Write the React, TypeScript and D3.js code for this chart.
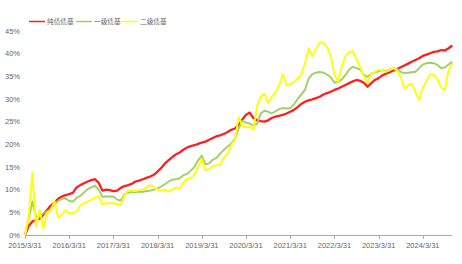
import React from "react";
import * as d3 from "d3";

const seriesNames = ["纯债债基", "一级债基", "二级债基"];
const seriesColors = ["#ff1f1f", "#9dd164", "#ffff00"];

const pureBond = [
  0, 2.0, 3.0, 3.3, 3.6, 4.5, 5.5, 6.5, 7.2, 8.0, 8.5, 8.8, 9.0, 9.3, 10.5, 11.0, 11.4, 11.8, 12.1, 12.3,
  11.5, 9.8, 10.0, 9.9, 9.7, 9.8, 10.4, 10.8, 11.0, 11.3, 11.8, 12.0, 12.3, 12.6, 12.9, 13.3, 14.0, 14.8, 15.8, 16.5,
  17.2, 17.8, 18.2, 18.8, 19.3, 19.6, 19.8, 20.1, 20.4, 20.6, 21.0, 21.4, 21.8, 22.0, 22.3, 22.7, 23.2, 23.5, 24.3, 25.5,
  26.5, 27.0, 25.8, 25.3, 25.1, 25.0, 25.3, 25.8, 26.1, 26.3, 26.5, 26.8, 27.2, 27.6, 28.2, 28.9, 29.4, 29.7, 29.9, 30.2,
  30.5, 31.0, 31.3, 31.6, 32.0, 32.3, 32.7, 33.1, 33.5, 33.9, 34.2, 34.0, 33.6, 32.7, 33.5, 34.2, 34.6, 35.2, 35.6, 35.9,
  36.3, 36.6, 37.0, 37.4, 37.8, 38.2, 38.6, 39.0, 39.5, 39.8, 40.1, 40.4, 40.5, 40.8, 40.7, 41.2, 41.8,
];

const primaryBond = [
  0, 3.5, 7.4, 4.0, 4.2, 4.8, 5.2, 5.6, 6.8, 7.5, 8.0, 8.1, 7.5, 7.4, 8.2, 8.6, 9.4, 10.1, 10.5, 10.9,
  10.0, 8.4, 8.5, 8.5, 8.5, 7.8, 7.6, 9.0, 9.3, 9.5, 9.4, 9.6, 9.5, 9.7, 9.8, 10.0, 10.3, 10.7, 11.2, 11.8,
  12.2, 12.3, 12.5, 13.2, 13.5, 14.2, 15.0, 16.5, 17.5, 15.6, 15.8, 16.6, 17.0, 18.0, 18.8, 19.5, 20.2, 21.2, 23.5, 25.2,
  24.8, 24.6, 24.2, 24.5, 26.8, 27.4, 27.2, 26.8, 27.3, 27.8, 28.0, 27.9, 28.0, 28.8, 30.0, 31.0, 32.0, 34.5, 35.5, 35.8,
  36.0, 35.8, 35.4, 34.8, 33.6, 33.8, 34.3, 35.3, 36.5, 37.1, 36.8, 36.5, 35.3, 34.9, 35.6, 35.9, 36.1, 36.3, 36.2, 36.5,
  36.8, 36.6, 36.0, 35.7, 35.8, 35.9, 36.0, 36.8, 37.6, 37.9, 38.0, 37.9, 37.5, 36.8, 37.0, 37.6, 38.2,
];

const secondaryBond = [
  0, 4.0, 13.8, 1.8, 5.5, 1.5, 4.8, 5.5, 7.5, 3.8, 4.5, 5.5, 4.8, 4.8, 5.2, 6.5, 7.0, 7.4, 7.7, 8.3,
  8.5, 6.8, 7.0, 7.0, 7.0, 6.8, 6.6, 8.8, 9.8, 9.8, 9.7, 9.9, 10.0, 10.5, 11.0, 10.6, 10.0, 9.8, 10.0, 9.6,
  10.0, 10.5, 10.2, 11.6, 12.3, 12.6, 13.3, 15.0, 16.8, 14.3, 14.5, 15.2, 15.4, 15.6, 17.0, 18.0, 19.9, 21.0, 26.0, 24.0,
  23.8, 23.9, 23.2, 28.5, 30.5, 31.2, 29.1, 30.5, 31.5, 33.0, 35.5, 33.0, 33.2, 33.8, 34.5, 35.3, 37.9, 41.2, 39.5, 41.0,
  42.5, 42.4, 41.5, 39.5, 35.5, 33.8, 37.0, 39.5, 40.3, 40.6, 38.6, 37.0, 35.0, 33.6, 35.5, 36.0, 36.5, 36.2, 36.0, 36.4,
  36.8, 36.3, 34.8, 32.4, 33.0, 33.4, 31.5, 29.8, 32.5, 34.0, 35.5, 35.3, 34.3, 32.5, 32.0, 36.4, 37.8,
];

const xTickLabels = [
  "2015/3/31", "2016/3/31", "2017/3/31", "2018/3/31", "2019/3/31",
  "2020/3/31", "2021/3/31", "2022/3/31", "2023/3/31", "2024/3/31",
];
const yTicks = [0, 5, 10, 15, 20, 25, 30, 35, 40, 45];

// monthly category labels, starting 2015/3
const categories: string[] = pureBond.map((_, i) => {
  const y = 2015 + Math.floor((2 + i) / 12);
  const m = ((2 + i) % 12) + 1;
  const d = new Date(y, m, 0).getDate();
  return `${y}/${m}/${d}`;
});

const W = 462;
const H = 264;
const left = 25;
const right = 452.3;
const top = 31;
const bottom = 235;

export default function App() {
  const x = d3.scaleLinear().domain([0, categories.length - 1]).range([left, right]);
  const y = d3.scaleLinear().domain([0, 45]).range([bottom, top]);
  const line = d3
    .line<number>()
    .x((_, i) => x(i))
    .y((v) => y(v));
  const allSeries = [pureBond, primaryBond, secondaryBond];
  const widths = [2.3, 1.9, 1.9];
  const textFont = "'Liberation Sans', Arial, 'Noto Sans CJK SC', sans-serif";
  const legendX = [29, 76, 122];

  return (
    <svg
      width={W}
      height={H}
      style={{ position: "absolute", left: 0, top: 0, background: "#fff" }}
      fontFamily={textFont}
    >
      {/* y labels */}
      {yTicks.map((t) => (
        <text key={t} x={20} y={y(t)} dy="0.35em" textAnchor="end" fontSize={7.5} fill="#666">
          {t}%
        </text>
      ))}
      {/* x axis */}
      <line x1={left} x2={right} y1={bottom + 0.5} y2={bottom + 0.5} stroke="#aaa" strokeWidth={1} />
      {xTickLabels.map((lab) => {
        const idx = categories.indexOf(lab);
        const xx = Math.round(x(idx)) + 0.5;
        return (
          <g key={lab}>
            <line x1={xx} x2={xx} y1={bottom} y2={bottom + 4} stroke="#aaa" />
            <text x={x(idx)} y={bottom + 10} dy="0.35em" textAnchor="middle" fontSize={7.5} fill="#666">
              {lab}
            </text>
          </g>
        );
      })}
      {/* lines */}
      {allSeries.map((s, k) => (
        <path
          key={k}
          d={line(s) || ""}
          fill="none"
          stroke={seriesColors[k]}
          strokeWidth={widths[k]}
          strokeLinejoin="round"
        />
      ))}
      {/* legend */}
      {seriesNames.map((n, k) => (
        <g key={n} transform={`translate(${legendX[k]},21.5)`}>
          <line x1={0} x2={16} y1={0} y2={0} stroke={seriesColors[k]} strokeWidth={1.5} />
          <text x={18} y={0} dy="0.35em" fontSize={6.7} fill="#666">
            {n}
          </text>
        </g>
      ))}
    </svg>
  );
}
